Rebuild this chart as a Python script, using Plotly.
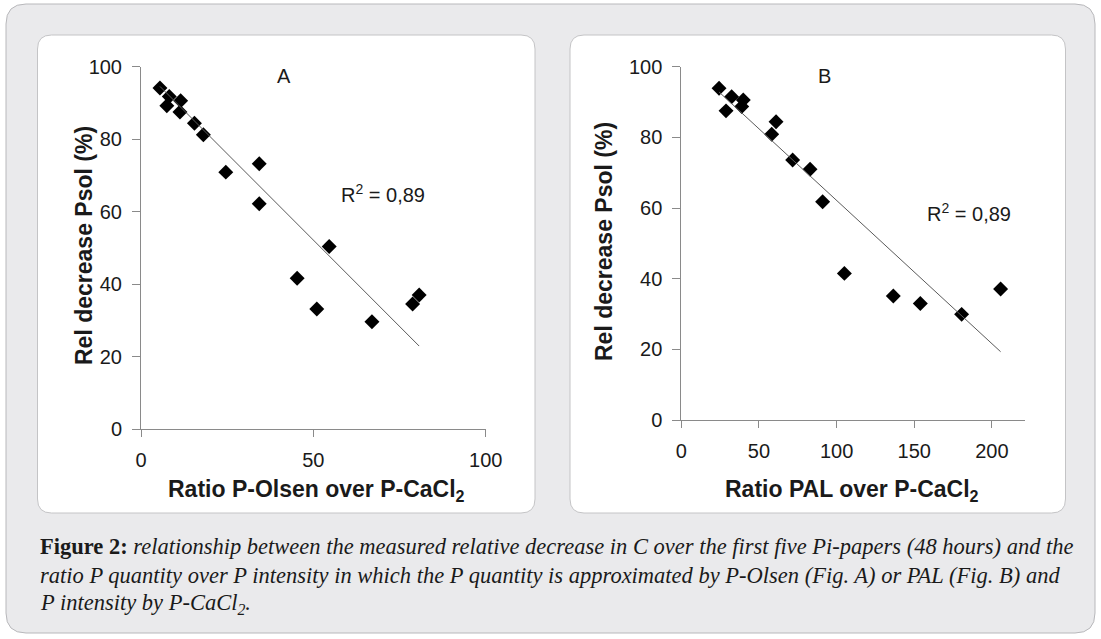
import plotly.graph_objects as go

# Panel A: ratio P-Olsen / P-CaCl2 vs relative decrease of Psol (%)
olsen_ratio = [5.5, 8.2, 7.5, 11.5, 11.3, 15.5, 18.1, 24.6, 34.3, 34.3, 54.6, 45.3, 51.0, 67.0, 78.8, 80.7]
decrease_a = [94.1, 91.8, 89.2, 90.6, 87.5, 84.4, 81.2, 70.9, 73.2, 62.2, 50.4, 41.6, 33.1, 29.6, 34.5, 37.0]

# Panel B: ratio PAL / P-CaCl2 vs relative decrease of Psol (%)
pal_ratio = [24.3, 32.4, 39.9, 38.9, 28.8, 61.0, 58.2, 71.7, 82.9, 91.0, 105.0, 136.5, 153.9, 180.5, 205.6]
decrease_b = [93.9, 91.5, 90.6, 88.7, 87.5, 84.4, 80.9, 73.6, 71.0, 61.8, 41.5, 35.1, 33.0, 29.9, 37.1]

# Linear trendlines (slope, intercept)
trend_a = (-0.953, 99.8)
trend_b = (-0.4055, 102.7)
r2_text = "R<sup>2</sup> = 0,89"

y_ticks = [0, 20, 40, 60, 80, 100]
x_ticks_a = [0, 50, 100]
x_ticks_b = [0, 50, 100, 150, 200]

W, H = 1101, 639


def px(x):
    return x / W


def py(y):
    return 1 - y / H


def rounded_rect(x0, y0, x1, y1, r):
    rx, ry = r / W, r / H
    X0, X1, Y0, Y1 = px(x0), px(x1), py(y0), py(y1)
    return (f"M {X0+rx},{Y0} L {X1-rx},{Y0} Q {X1},{Y0} {X1},{Y0-ry} "
            f"L {X1},{Y1+ry} Q {X1},{Y1} {X1-rx},{Y1} "
            f"L {X0+rx},{Y1} Q {X0},{Y1} {X0},{Y1+ry} "
            f"L {X0},{Y0-ry} Q {X0},{Y0} {X0+rx},{Y0} Z")


fig = go.Figure()

marker = dict(symbol="diamond", size=11.5, color="black", line=dict(width=0))
line_style = dict(color="#5a5a5a", width=1)

fig.add_trace(go.Scatter(x=olsen_ratio, y=decrease_a, mode="markers", marker=marker,
                         xaxis="x", yaxis="y", showlegend=False))
xa = [min(olsen_ratio), max(olsen_ratio)]
fig.add_trace(go.Scatter(x=xa, y=[trend_a[0] * v + trend_a[1] for v in xa], mode="lines",
                         line=line_style, xaxis="x", yaxis="y", showlegend=False))

fig.add_trace(go.Scatter(x=pal_ratio, y=decrease_b, mode="markers", marker=marker,
                         xaxis="x2", yaxis="y2", showlegend=False))
xb = [min(pal_ratio), max(pal_ratio)]
fig.add_trace(go.Scatter(x=xb, y=[trend_b[0] * v + trend_b[1] for v in xb], mode="lines",
                         line=line_style, xaxis="x2", yaxis="y2", showlegend=False))

axis_common = dict(showline=True, linecolor="#8a8a8a", linewidth=1, showgrid=False,
                   zeroline=False, ticks="outside", tickcolor="#8a8a8a", tickwidth=1,
                   tickfont=dict(family="Liberation Sans, Arial", size=20, color="#1a1a1a"))

fig.update_layout(
    width=W, height=H,
    margin=dict(l=0, r=0, t=0, b=0, autoexpand=False),
    showlegend=False,
    paper_bgcolor="white",
    plot_bgcolor="white",
    xaxis=dict(domain=[px(141), px(485.7)], range=[0, 100], tickvals=x_ticks_a, ticklen=7,
               anchor="y", ticklabelstandoff=6, **axis_common),
    yaxis=dict(domain=[py(429), py(66.7)], range=[0, 100], tickvals=y_ticks, ticklen=8,
               anchor="x", ticklabelstandoff=6, **axis_common),
    xaxis2=dict(domain=[px(681.3), px(1025)], range=[0, 221.3], tickvals=x_ticks_b, ticklen=7,
                anchor="y2", ticklabelstandoff=6, **axis_common),
    yaxis2=dict(domain=[py(420), py(66.7)], range=[0, 100], tickvals=y_ticks, ticklen=8,
                anchor="x2", ticklabelstandoff=6, **axis_common),
)

# Background frame and white chart panels
shapes = [
    dict(type="path", xref="paper", yref="paper", path=rounded_rect(6, 4, 1095, 633, 20),
         fillcolor="#eaeaec", line=dict(color="#b8b8bb", width=1), layer="below"),
    dict(type="path", xref="paper", yref="paper", path=rounded_rect(37.5, 35, 535, 513, 14),
         fillcolor="white", line=dict(color="#c4c4c6", width=1), layer="below"),
    dict(type="path", xref="paper", yref="paper", path=rounded_rect(570, 35, 1065.5, 513, 14),
         fillcolor="white", line=dict(color="#c4c4c6", width=1), layer="below"),
]
fig.update_layout(shapes=shapes)

sans = "Liberation Sans, Arial"
serif = "Liberation Serif, Times New Roman"
ann = []


def text(x, y, s, size, family=sans, angle=0, xanchor="center", color="#1a1a1a"):
    ann.append(dict(x=px(x), y=py(y), xref="paper", yref="paper", text=s, showarrow=False,
                    xanchor=xanchor, yanchor="middle", textangle=angle,
                    font=dict(family=family, size=size, color=color)))


# Panel labels and fit statistics
text(284, 76, "A", 20)
text(824, 76, "B", 20)
text(383, 194, r2_text, 20)
text(969, 212, r2_text, 20)

# Axis titles
text(84, 246, "<b>Rel decrease Psol (%)</b>", 23, angle=-90)
text(604, 242, "<b>Rel decrease Psol (%)</b>", 23, angle=-90)
text(316, 490, "<b>Ratio P-Olsen over P-CaCl<sub>2</sub></b>", 23)
text(852, 490, "<b>Ratio PAL over P-CaCl<sub>2</sub></b>", 23)

# Caption
text(38, 546, "<b>Figure 2:</b> <i>relationship between the measured relative decrease in C over the "
              "first five Pi-papers (48 hours) and the</i>", 22.5, family=serif, xanchor="left")
text(38, 575, "<i>ratio P quantity over P intensity in which the P quantity is approximated by "
              "P-Olsen (Fig. A) or PAL (Fig. B) and</i>", 22.5, family=serif, xanchor="left")
text(38, 604, "<i>P intensity by P-CaCl<sub>2</sub>.</i>", 22.5, family=serif, xanchor="left")

fig.update_layout(annotations=ann)

fig.write_html("out.html")
